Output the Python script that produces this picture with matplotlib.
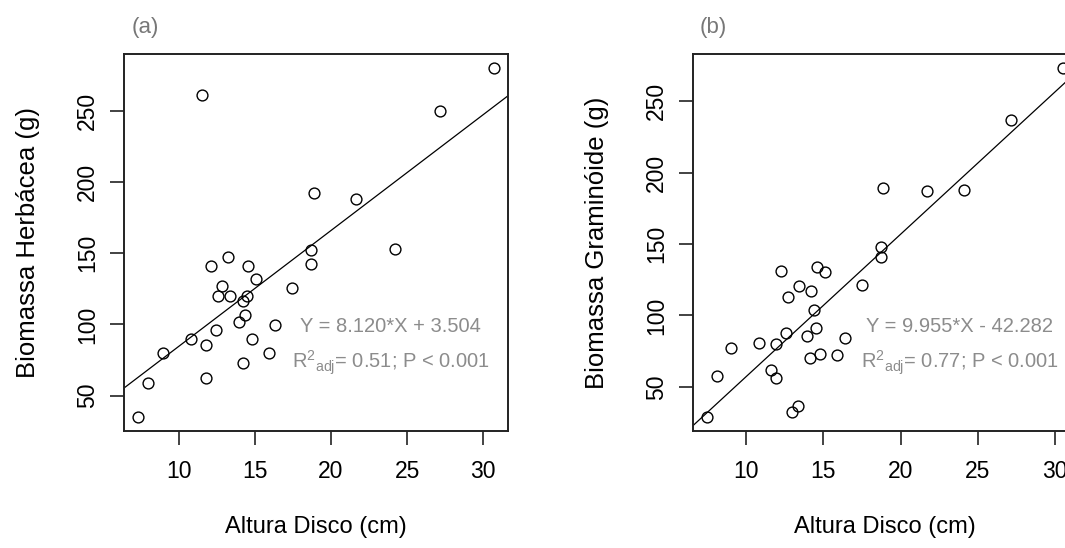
import matplotlib
matplotlib.use('Agg')
import matplotlib.pyplot as plt
import numpy as np

plt.rcParams['font.family'] = ['Liberation Sans', 'DejaVu Sans']
plt.rcParams['mathtext.fontset'] = 'custom'
plt.rcParams['mathtext.rm'] = 'Liberation Sans'
plt.rcParams['mathtext.it'] = 'Liberation Sans'
plt.rcParams['mathtext.sf'] = 'Liberation Sans'

# ---- data panel (a) ----
alt_a = [30.70, 11.51, 27.19, 18.88, 21.67, 24.21, 18.66, 18.66, 13.22, 12.11,
         14.56, 15.09, 12.83, 12.59, 13.33, 17.43, 14.50, 14.19, 14.36, 13.93,
         16.32, 12.43, 10.79, 14.78, 11.80, 8.93, 15.92, 14.19, 7.96, 11.80, 7.32]
herb = [279.9, 261.0, 250.0, 192.1, 187.9, 152.8, 151.9, 142.1, 147.2, 140.7,
        140.7, 132.0, 126.6, 119.9, 119.9, 125.5, 119.9, 116.4, 106.8, 101.6,
        99.3, 96.3, 89.5, 89.5, 85.3, 80.1, 79.9, 73.1, 58.9, 62.4, 35.0]

# ---- data panel (b) ----
alt_b = [30.52, 27.17, 18.83, 21.70, 24.13, 18.74, 18.74, 12.22, 14.57, 15.09,
         13.43, 14.17, 17.52, 12.72, 14.37, 14.50, 12.54, 13.93, 16.39, 10.80,
         11.93, 8.98, 14.78, 14.15, 15.87, 11.59, 11.93, 8.09, 12.93, 13.37, 7.46]
gram = [273.3, 236.9, 189.2, 186.8, 188.0, 147.9, 140.9, 131.4, 133.7, 130.2,
        120.4, 117.1, 121.3, 112.7, 104.1, 91.0, 87.5, 85.4, 84.5, 81.0,
        80.1, 77.0, 73.3, 70.5, 72.6, 61.9, 56.1, 57.5, 32.3, 36.5, 28.8]

coef_a = (8.120, 3.504)
coef_b = (9.955, -42.282)
eq_a = "Y = 8.120*X + 3.504"
eq_b = "Y = 9.955*X - 42.282"
r2_a = r"R$^{2}{}_{\mathrm{adj}}$= 0.51; P < 0.001"
r2_b = r"R$^{2}{}_{\mathrm{adj}}$= 0.77; P < 0.001"

xticks = [10, 15, 20, 25, 30]
yticks = [50, 100, 150, 200, 250]

W, H = 1065, 548
fig = plt.figure(figsize=(W / 100, H / 100), dpi=100)

def rlim(v):
    lo, hi = min(v), max(v)
    r = hi - lo
    return lo - 0.04 * r, hi + 0.04 * r

txt_gray = '#8c8c8c'

def panel(rect, x, y, coef, eq, r2, ylabel, tag, eqpos, tagpos):
    ax = fig.add_axes(rect)
    ax.plot(x, y, 'o', ms=7.8, mfc='none', mec='black', mew=1.0, zorder=3)
    ax.axline((0, coef[1]), slope=coef[0], color='black', lw=0.9)
    ax.set_xlim(*rlim(x))
    ax.set_ylim(*rlim(y))
    ax.set_xticks(xticks)
    ax.set_yticks(yticks)
    ax.set_xticklabels([str(t) for t in xticks])
    ax.set_yticklabels([str(t) for t in yticks], rotation=90, va='center')
    ax.tick_params(direction='out', length=10, width=1.2, labelsize=16.5,
                   colors='#222222', labelcolor='black')
    ax.tick_params(axis='x', pad=11)
    ax.tick_params(axis='y', pad=8)
    for s in ax.spines.values():
        s.set_linewidth(1.4)
        s.set_color('#222222')
    ax.set_xlabel('Altura Disco (cm)', fontsize=17, labelpad=24)
    ax.set_ylabel(ylabel, fontsize=18.5, labelpad=26)
    ax.text(eqpos[0], eqpos[1], eq, transform=ax.transAxes, ha='center',
            va='center', fontsize=14.5, color=txt_gray)
    ax.text(eqpos[0], eqpos[1] - 0.096, r2, transform=ax.transAxes, ha='center',
            va='center', fontsize=14.5, color=txt_gray)
    fig.text(tagpos[0] / W, 1 - tagpos[1] / H, tag, ha='center', va='center',
             fontsize=16, color='#777777')
    return ax

axw = 384 / W
axh = 377 / H
bot = (H - 431) / H

panel([124 / W, bot, axw, axh], alt_a, herb, coef_a, eq_a, r2_a,
      'Biomassa Herbácea (g)', '(a)', (0.695, 0.276), (145, 28))
panel([693 / W, bot, axw, axh], alt_b, gram, coef_b, eq_b, r2_b,
      'Biomassa Graminóide (g)', '(b)', (0.695, 0.276), (713, 28))

fig.savefig('out.png', dpi=100)
